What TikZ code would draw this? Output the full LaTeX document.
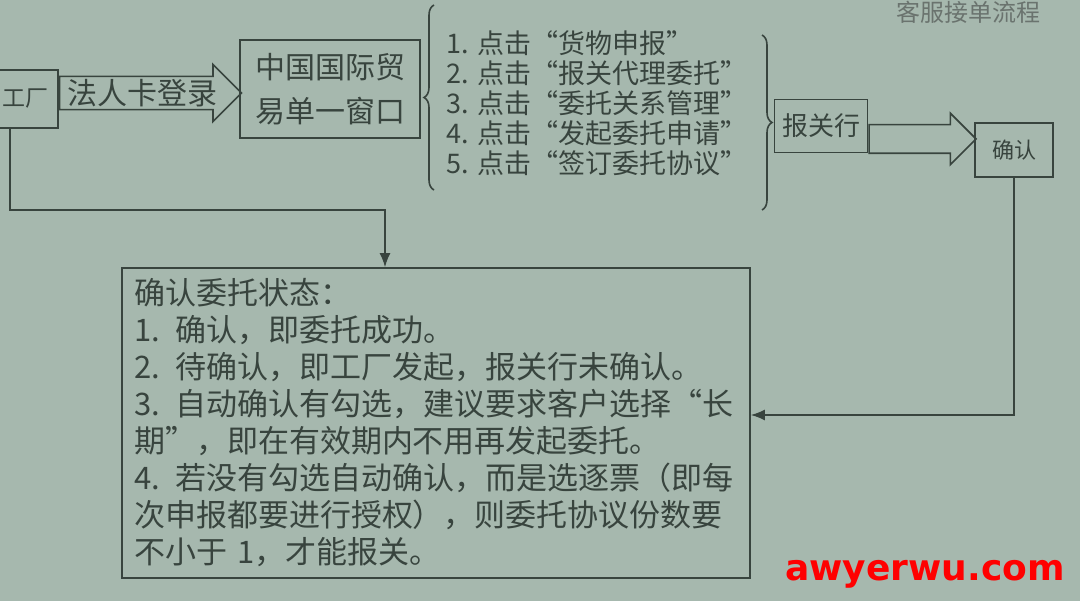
\documentclass[tikz,border=0pt]{standalone}
\usepackage{fontspec}
\setmainfont{Noto Sans CJK SC}
\newfontfamily\markfont{DejaVu Sans}
\usetikzlibrary{shapes.arrows}
\usetikzlibrary{decorations.pathreplacing}
\usetikzlibrary{arrows.meta}
\usetikzlibrary{positioning}

\definecolor{paper}{RGB}{166,184,174}
\definecolor{ink}{RGB}{56,68,62}

\tikzset{
  box/.style={rectangle, draw=ink, text=ink, inner sep=0pt},
  fatarrow/.style={single arrow, draw=ink, text=ink, inner xsep=3pt},
  link/.style={draw=ink, -{Latex[length=14pt,width=11pt]}},
  curly/.style={draw=ink, decorate, decoration={brace, amplitude=10pt}},
}

\begin{document}
\begin{tikzpicture}[x=1pt, y=-1pt]
\begin{scope}[line width=1.6pt]

  % page of the book
  \fill[paper] (0,0) rectangle (1080,601);
  \useasboundingbox (0,0) rectangle (1080,601);
  \clip (0,0) rectangle (1080,601);

  \node[text=ink!75, font=\fontsize{24}{24}\selectfont] (title) at (968,12) {客服接单流程};

  % top row
  \node[box, minimum width=66pt, minimum height=58pt, font=\fontsize{23}{23}\selectfont]
       (factory) at (25,99) {工厂};
  \node[fatarrow, anchor=west, minimum height=182pt, inner ysep=2pt, single arrow head extend=12pt,
        font=\fontsize{30}{30}\selectfont] (login) at ([yshift=6pt]factory.east) {法人卡登录};

  \node[box, minimum width=180pt, minimum height=98pt, align=center, font=\fontsize{30}{44}\selectfont]
       (window) at (330,89) {中国国际贸\\易单一窗口};

  \draw[curly] (434,190) -- (434,5);
  \node[text=ink, anchor=west, align=left, inner sep=0pt, font=\fontsize{27}{30}\selectfont]
       (steps) at (446,103) {1. 点击“货物申报”\\2. 点击“报关代理委托”\\3. 点击“委托关系管理”\\4. 点击“发起委托申请”\\5. 点击“签订委托协议”};
  \draw[curly] (762,35) -- (762,210);

  \node[box, minimum width=93pt, minimum height=53pt, font=\fontsize{26}{26}\selectfont]
       (agent) at (821,126) {报关行};
  \node[box, minimum width=78pt, minimum height=54pt, font=\fontsize{22}{22}\selectfont]
       (confirm) at (1014,150) {确认};
  \node[fatarrow, anchor=west, minimum height=107pt, inner ysep=13.5pt, single arrow head extend=11.5pt]
       (pass) at ([yshift=-13pt]agent.east) {};

  % status box
  \node[box, minimum width=628pt, minimum height=310pt, text width=604pt, align=left,
        font=\fontsize{31}{37}\selectfont] (status) at (436,423)
       {确认委托状态：\\1. 确认，即委托成功。\\2. 待确认，即工厂发起，报关行未确认。\\3. 自动确认有勾选，建议要求客户选择“长\\期”，即在有效期内不用再发起委托。\\4. 若没有勾选自动确认，而是选逐票（即每\\次申报都要进行授权），则委托协议份数要\\不小于 1，才能报关。};

  \coordinate (bend1) at (385,210);
  \draw[link] ([xshift=-15pt]factory.south) |- (bend1) -- (bend1 |- status.north);
  \draw[link] (confirm.south) |- ([yshift=8pt]status.east);

  \node[text=red, font=\markfont\bfseries\fontsize{36}{36}\selectfont] (mark) at (925,574) {awyerwu.com};

\end{scope}
\end{tikzpicture}
\end{document}
